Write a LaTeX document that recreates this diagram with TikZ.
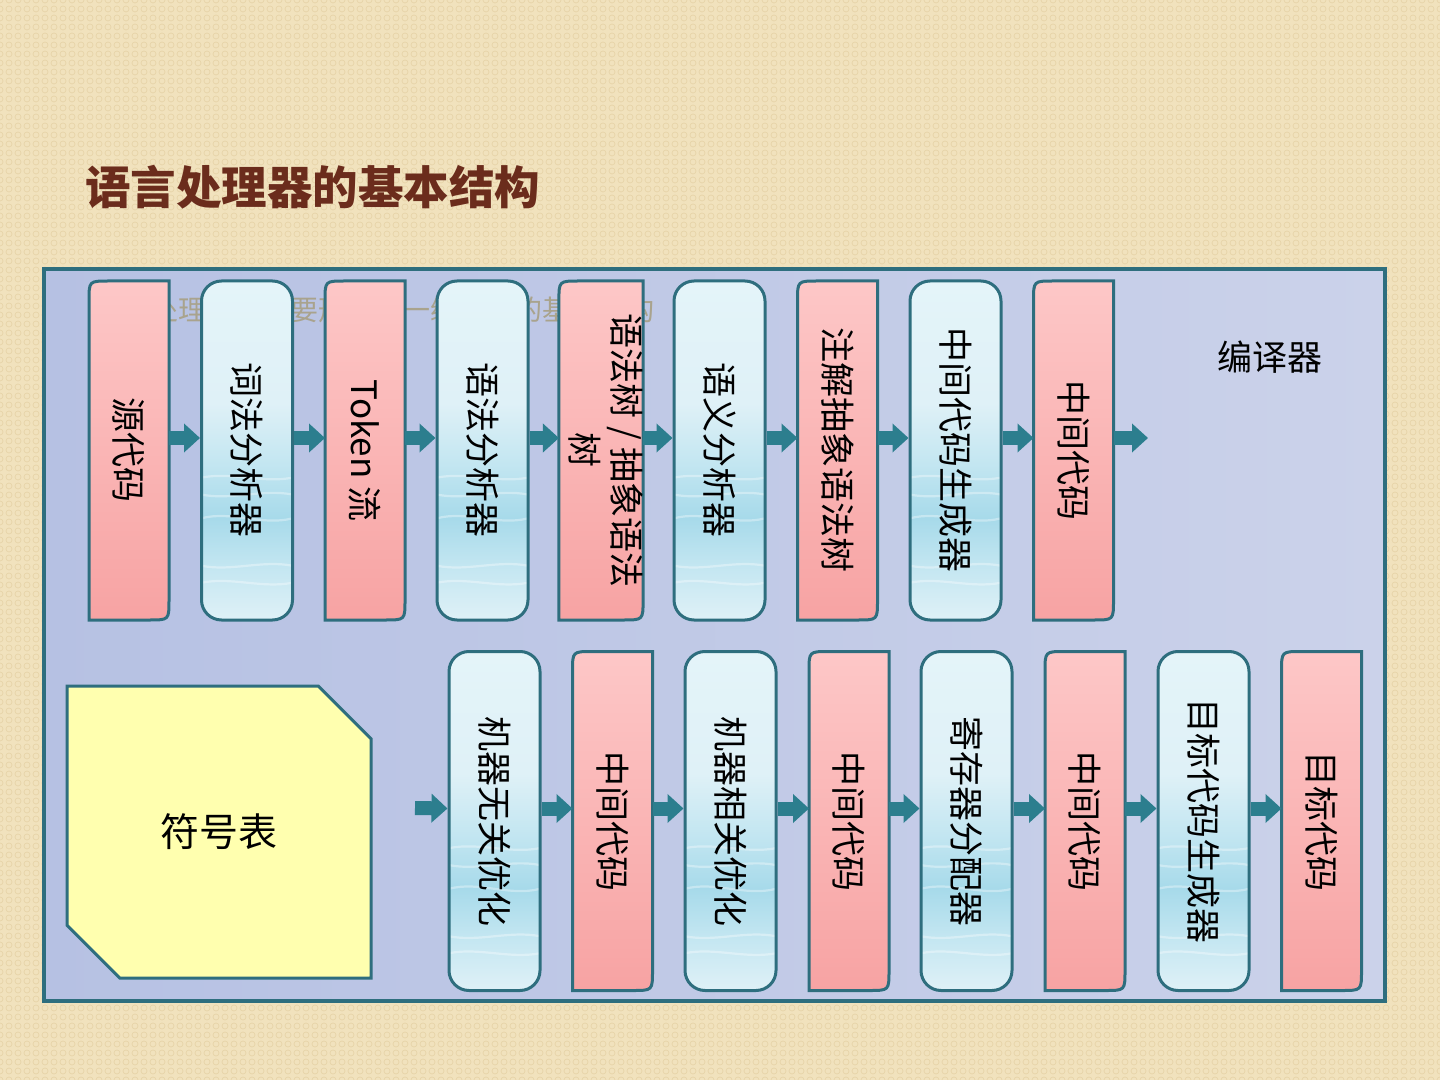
\documentclass[tikz,border=0pt]{standalone}
\usepackage{fontspec}
\setmainfont{Noto Sans CJK SC}
\usepackage{xcolor}
\usetikzlibrary{arrows.meta, calc, shapes.misc, patterns.meta}

\definecolor{pagebg}{HTML}{F1E2BD}
\definecolor{pagedots}{HTML}{E7D4A9}
\definecolor{titlecol}{HTML}{6B2C1C}
\definecolor{frameleft}{HTML}{B6C1E3}
\definecolor{frameright}{HTML}{CBD2EA}
\definecolor{edge}{HTML}{2E6E7E}
\definecolor{redtop}{HTML}{FDC7C7}
\definecolor{redbot}{HTML}{F7A3A3}
\definecolor{wavetop}{HTML}{E4F4F9}
\definecolor{waveedge}{HTML}{DFF1F7}
\definecolor{wavemid}{HTML}{C3E6F1}
\definecolor{wavedeep}{HTML}{A7DAEA}
\definecolor{arrowcol}{HTML}{2C7E8E}
\definecolor{faintcol}{HTML}{A9A38D}
\definecolor{symfill}{HTML}{FFFFAF}

\pgfdeclareverticalshading{wave_shade}{100bp}{color(0bp)=(waveedge); color(25bp)=(waveedge); color(33bp)=(wavemid); color(40bp)=(wavedeep); color(48bp)=(wavemid); color(57bp)=(waveedge); color(75bp)=(wavetop); color(100bp)=(wavetop)}

\tikzdeclarepattern{
  name=beige_dots,
  type=uncolored,
  bounding box={(-2.25pt,-2.25pt) and (2.25pt,2.25pt)},
  tile size={(4.5pt,4.5pt)},
  code={\draw[line width=0.35pt] (0pt,0pt) circle [radius=1.5pt];}
}

\pgfdeclarelayer{frame_layer}
\pgfdeclarelayer{box_layer}
\pgfsetlayers{frame_layer,box_layer,main}

\begin{document}
\begin{tikzpicture}[
    x=0.5pt, y=-0.5pt,
    heading/.style={anchor=west, inner sep=0pt, text=titlecol, font=\fontsize{22.75}{27}\selectfont\bfseries},
    faint/.style={anchor=west, inner sep=0pt, text=faintcol, font=\fontsize{14}{17}\selectfont},
    frame_box/.style={draw=edge, line width=1.75pt, left color=frameleft, right color=frameright},
    data_box/.style={rectangle, inner sep=0pt, outer sep=0pt, minimum width=40pt, minimum height=169.5pt, font=\fontsize{17.5}{21}\selectfont},
    data_shape/.style={top color=redtop, bottom color=redbot, draw=edge, line width=1.5pt},
    tool_box/.style={rectangle, rounded corners=10pt, draw=edge, line width=1.5pt, shading=wave_shade,
        inner sep=0pt, minimum width=45.5pt, minimum height=169.5pt, font=\fontsize{17.5}{21}\selectfont,
        path picture={
            \foreach \f/\d/\e in {0.58/3pt/-3pt, 0.63/-3pt/3pt, 0.70/4pt/-4pt, 0.84/-3pt/3pt, 0.89/3pt/-3pt}
                \draw[white, opacity=0.35, line width=1.1pt]
                    ($(path picture bounding box.north west)!\f!(path picture bounding box.south west)$)
                    .. controls +(15pt,\d) and +(-15pt,\e) ..
                    ($(path picture bounding box.north east)!\f!(path picture bounding box.south east)$);
        }},
    sym_table/.style={chamfered rectangle, chamfered rectangle corners={north east, south west},
        chamfered rectangle xsep=14pt, chamfered rectangle ysep=14pt, draw=edge, line width=1.5pt,
        fill=symfill, minimum width=152pt, minimum height=146pt, font=\fontsize{19.5}{23}\selectfont},
    plain_label/.style={font=\fontsize{17.5}{21}\selectfont},
    flow/.style={draw=arrowcol, line width=7pt, -{Triangle[length=8pt, width=14pt]}},
]
    \useasboundingbox (0, 0) rectangle (1440, 1080);
    \begin{pgfonlayer}{frame_layer}
        \fill[pagebg] (0, 0) rectangle (1440, 1080);
        \fill[pattern=beige_dots, pattern color=pagedots] (0, 0) rectangle (1440, 1080);
        \path[frame_box] (44, 269) rectangle (1385, 1001);
        \node(faint_caption)[faint] at (94, 310) {语言处理器的主要形式之一编译器的基本结构};
    \end{pgfonlayer}

    \node(title)[heading] at (85, 187) {语言处理器的基本结构};
    \node(compiler_label)[plain_label] at (1270, 357) {编译器};

    \node(src)[data_box] at (129, 450.5) {\rotatebox{-90}{源代码}};
    \node(lexer)[tool_box] at (247, 450.5) {\rotatebox{-90}{词法分析器}};
    \node(tokens)[data_box] at (365, 450.5) {\rotatebox{-90}{Token 流}};
    \node(parser)[tool_box] at (482.5, 450.5) {\rotatebox{-90}{语法分析器}};
    \node(ast)[data_box] at (601, 450.5) {\rotatebox{-90}{\begin{tabular}{@{}c@{}}语法树 / 抽象语法\\树\end{tabular}}};
    \node(semantic)[tool_box] at (719.5, 450.5) {\rotatebox{-90}{语义分析器}};
    \node(annotated)[data_box] at (837.5, 450.5) {\rotatebox{-90}{注解抽象语法树}};
    \node(irgen)[tool_box] at (955.5, 450.5) {\rotatebox{-90}{中间代码生成器}};
    \node(ir_top)[data_box] at (1073.5, 450.5) {\rotatebox{-90}{中间代码}};
    \coordinate(top_exit) at (1148, 438);

    \node(symbols)[sym_table] at (219, 832) {符号表};

    \coordinate(bottom_entry) at (415, 808);
    \node(mio)[tool_box] at (494.5, 821) {\rotatebox{-90}{机器无关优化}};
    \node(ir_1)[data_box] at (612.5, 821) {\rotatebox{-90}{中间代码}};
    \node(mdo)[tool_box] at (730.5, 821) {\rotatebox{-90}{机器相关优化}};
    \node(ir_2)[data_box] at (849, 821) {\rotatebox{-90}{中间代码}};
    \node(regalloc)[tool_box] at (966.5, 821) {\rotatebox{-90}{寄存器分配器}};
    \node(ir_3)[data_box] at (1085, 821) {\rotatebox{-90}{中间代码}};
    \node(codegen)[tool_box] at (1203.5, 821) {\rotatebox{-90}{目标代码生成器}};
    \node(target)[data_box] at (1321.5, 821) {\rotatebox{-90}{目标代码}};

    \begin{pgfonlayer}{box_layer}
        \foreach \n in {src, tokens, ast, annotated, ir_top, ir_1, ir_2, ir_3, target}
            \shadedraw[data_shape] ([yshift=-10pt]\n.north west) .. controls (\n.north west) .. ([xshift=10pt]\n.north west)
                -- (\n.north east) -- ([yshift=10pt]\n.south east) .. controls (\n.south east) .. ([xshift=-10pt]\n.south east)
                -- (\n.south west) -- cycle;
    \end{pgfonlayer}

    \foreach \a/\b in {src/lexer, lexer/tokens, tokens/parser, parser/ast, ast/semantic, semantic/annotated, annotated/irgen, irgen/ir_top,
                       mio/ir_1, ir_1/mdo, mdo/ir_2, ir_2/regalloc, regalloc/ir_3, ir_3/codegen, codegen/target}
        \draw[flow] ([yshift=6.25pt]\a.east) -- ([yshift=6.25pt]\b.west);
    \draw[flow] ([yshift=6.25pt]ir_top.east) -- (top_exit);
    \draw[flow] (bottom_entry) -- ([yshift=6.25pt]mio.west);
\end{tikzpicture}
\end{document}
